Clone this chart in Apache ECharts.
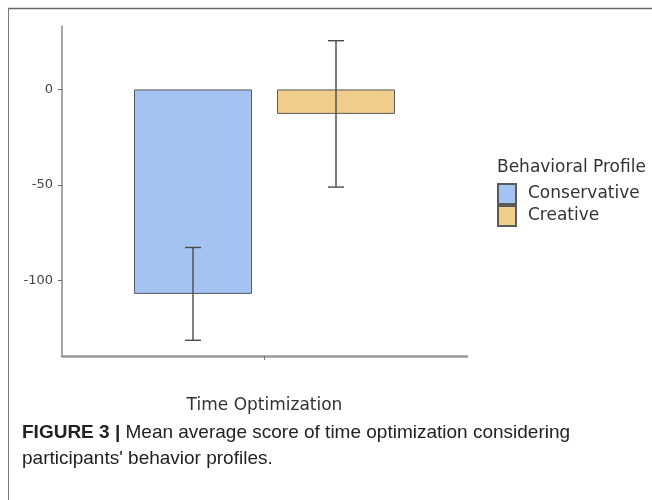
<!DOCTYPE html>
<html><head><meta charset="utf-8">
<script src="https://cdn.jsdelivr.net/npm/echarts@6/dist/echarts.min.js"></script>
<style>html,body{margin:0;padding:0;background:#fff}#c{width:652px;height:500px}</style>
</head><body><div id="c"></div>
<script>
const categories = ['Time Optimization'];
const profiles = ['Conservative', 'Creative'];
const conservativeMean = [-107];
const conservativeErr = [24.3];
const creativeMean = [-12.8];
const creativeErr = [38.3];
const yTicks = [0, -50, -100];
const legendTitle = 'Behavioral Profile';
const captionBold = 'FIGURE 3 | ';
const captionLine1 = 'Mean average score of time optimization considering';
const captionLine2 = "participants' behavior profiles.";

const barW = 118, gapPx = 25;
const colors = ['#a4c2f2', '#f1cd8c'];

function errData(mean, err) {
  return mean.map((m, i) => [i, m - err[i], m + err[i]]);
}
function errSeries(mean, err, offset) {
  return {
    type: 'custom', silent: true, z: 5,
    data: errData(mean, err),
    renderItem: function (params, api) {
      const lo = api.coord([api.value(0), api.value(1)]);
      const hi = api.coord([api.value(0), api.value(2)]);
      const x = lo[0] + offset;
      const cap = 8;
      const st = { stroke: '#4a4a4a', lineWidth: 1.4 };
      return { type: 'group', children: [
        { type: 'line', shape: { x1: x, y1: lo[1], x2: x, y2: hi[1] }, style: st },
        { type: 'line', shape: { x1: x - cap, y1: lo[1], x2: x + cap, y2: lo[1] }, style: st },
        { type: 'line', shape: { x1: x - cap, y1: hi[1], x2: x + cap, y2: hi[1] }, style: st }
      ]};
    }
  };
}

const chart = echarts.init(document.getElementById('c'), null, { renderer: 'canvas' });
const off = (barW + gapPx) / 2;
chart.setOption({
  animation: false,
  backgroundColor: '#fff',
  textStyle: { fontFamily: 'DejaVu Sans' },
  grid: { left: 62, right: 185, top: 26, bottom: 144 },
  legend: {
    data: profiles, orient: 'vertical', left: 497, top: 183, padding: 0,
    itemWidth: 18, itemHeight: 20, itemGap: 0, icon: 'rect',
    textStyle: { fontSize: 17, color: '#333', padding: [0, 0, 0, 7], fontFamily: 'DejaVu Sans' }
  },
  xAxis: {
    type: 'category', data: categories,
    axisLine: { onZero: false, lineStyle: { color: '#999', width: 2.5 } },
    axisTick: { show: true, alignWithLabel: true, length: 4, lineStyle: { color: '#777' } },
    axisLabel: { margin: 41, fontSize: 17, color: '#333' }
  },
  yAxis: {
    type: 'value', min: -139.5, max: 33.2,
    splitLine: { show: false },
    axisLine: { show: true, lineStyle: { color: '#888', width: 1.5 } },
    axisTick: { show: true, length: 4, customValues: yTicks, lineStyle: { color: '#666' } },
    axisLabel: { customValues: yTicks, fontSize: 13, color: '#444', margin: 9 }
  },
  series: [
    { name: profiles[0], type: 'bar', data: conservativeMean, barWidth: barW, barGap: (gapPx / barW * 100) + '%',
      itemStyle: { color: colors[0], borderColor: '#5a5a5a', borderWidth: 1 } },
    { name: profiles[1], type: 'bar', data: creativeMean, barWidth: barW,
      itemStyle: { color: colors[1], borderColor: '#5a5a5a', borderWidth: 1 } },
    errSeries(conservativeMean, conservativeErr, -off),
    errSeries(creativeMean, creativeErr, off)
  ],
  graphic: [
    { type: 'line', shape: { x1: 8, y1: 8.5, x2: 652, y2: 8.5 }, style: { stroke: '#666', lineWidth: 1.5 } },
    { type: 'line', shape: { x1: 8.5, y1: 8, x2: 8.5, y2: 500 }, style: { stroke: '#777', lineWidth: 1 } },
    { type: 'text', left: 497, top: 159, style: { text: legendTitle, font: '17px "DejaVu Sans"', fill: '#333' } },
    { type: 'text', left: 22, top: 423, style: {
      text: '{b|' + captionBold + '}{r|' + captionLine1 + '}\n{r|' + captionLine2 + '}',
      rich: {
        b: { fontFamily: 'Liberation Sans', fontWeight: 'bold', fontSize: 19, fill: '#222', lineHeight: 26 },
        r: { fontFamily: 'Liberation Sans', fontSize: 19, fill: '#222', lineHeight: 26 }
      } } }
  ]
});
</script></body></html>
